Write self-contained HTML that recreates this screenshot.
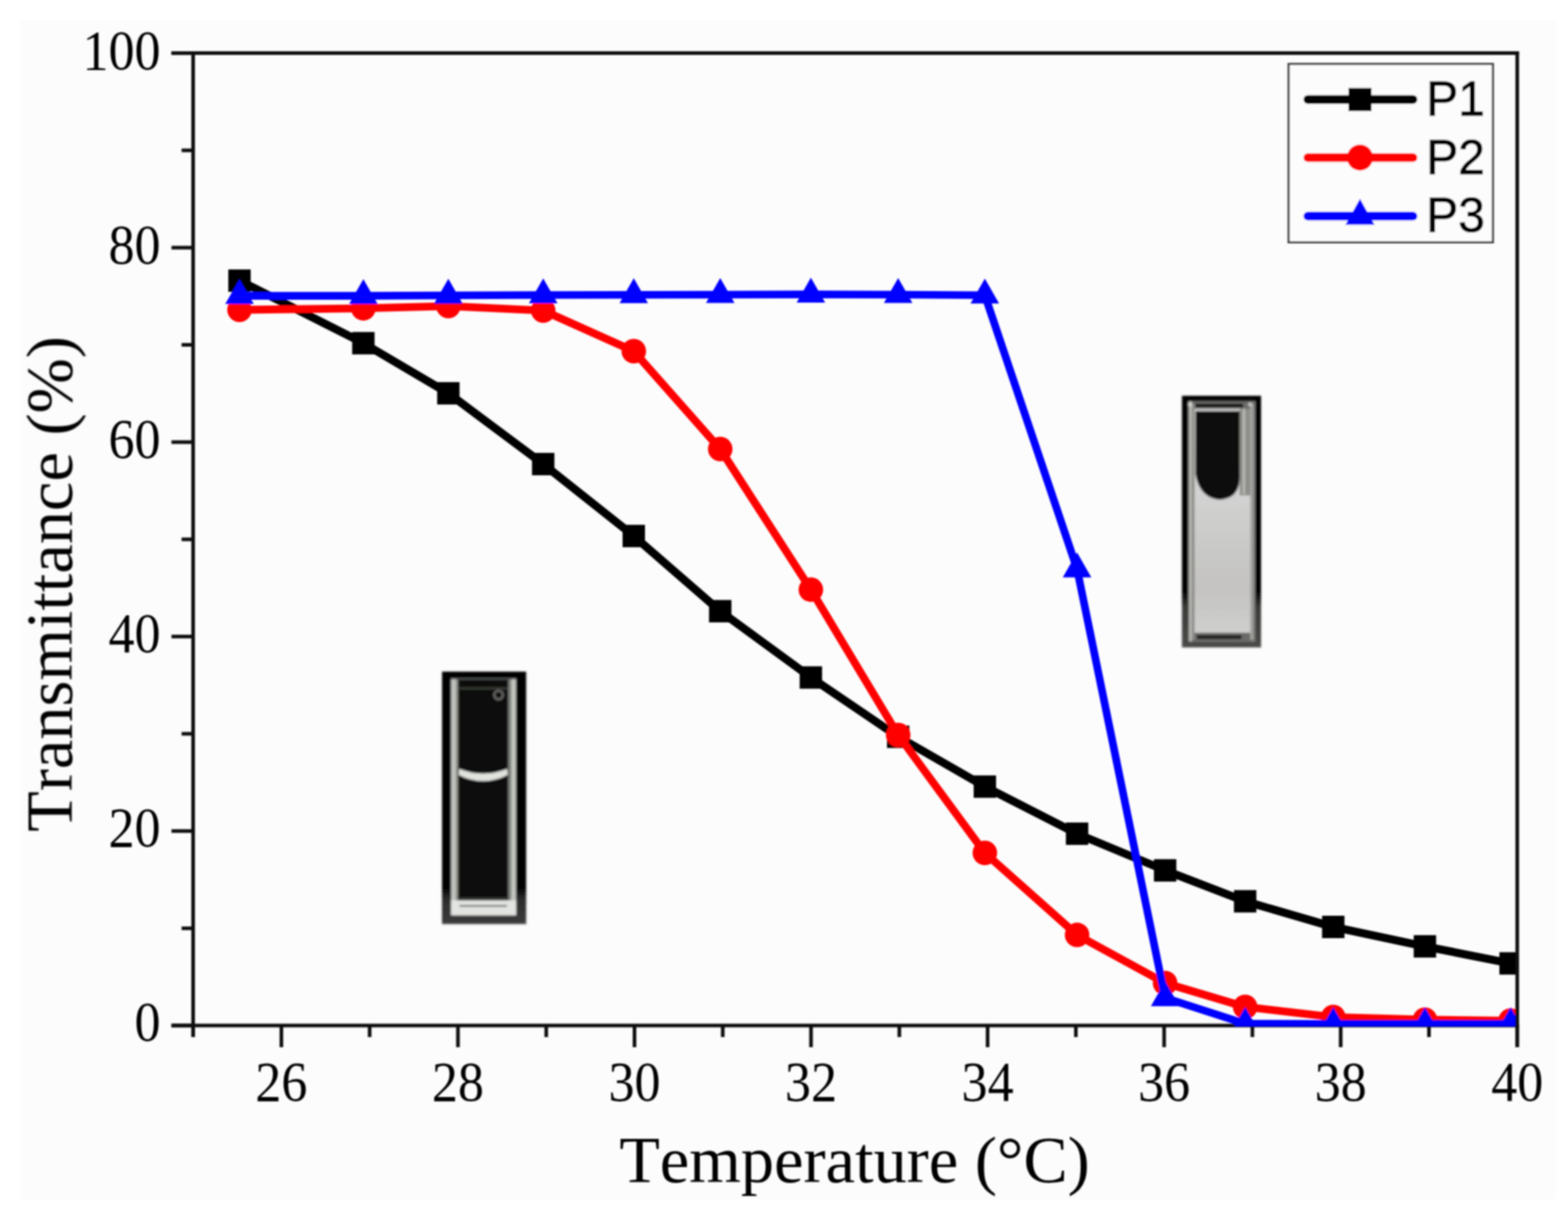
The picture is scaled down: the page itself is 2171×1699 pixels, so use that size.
<!DOCTYPE html>
<html lang="en"><head><meta charset="utf-8"><title>Transmittance vs Temperature</title>
<style>
html,body{margin:0;padding:0;background:#fff;}
body{width:2171px;height:1699px;overflow:hidden;position:relative;}
svg{position:absolute;left:0;top:0;display:block;}
.serif{font-family:"Liberation Serif","DejaVu Serif",serif;fill:#000;font-kerning:none;}
.sans{font-family:"Liberation Sans","DejaVu Sans",sans-serif;fill:#000;}
</style></head><body>
<svg width="2171" height="1699" viewBox="0 0 2171 1699">
<defs>
<filter id="soft" x="-2%" y="-2%" width="104%" height="104%"><feGaussianBlur stdDeviation="1.25"/></filter>
<filter id="soft2" x="-10%" y="-10%" width="120%" height="120%"><feGaussianBlur stdDeviation="0.8"/></filter>
<clipPath id="plot"><rect x="267.4" y="73.6" width="1833.8" height="1347.3"/></clipPath>
<linearGradient id="liq" x1="0" y1="0" x2="0" y2="1"><stop offset="0" stop-color="#dcdedd"/><stop offset="0.35" stop-color="#d2d3d2"/><stop offset="0.8" stop-color="#c4c3c1"/><stop offset="1" stop-color="#cfcfcd"/></linearGradient>
<linearGradient id="frameR" x1="0" y1="0" x2="0" y2="1"><stop offset="0" stop-color="#050505"/><stop offset="0.78" stop-color="#050505"/><stop offset="0.84" stop-color="#3a3a38"/><stop offset="1" stop-color="#4a4a48"/></linearGradient>
<linearGradient id="frameL" x1="0" y1="0" x2="0" y2="1"><stop offset="0" stop-color="#040404"/><stop offset="0.86" stop-color="#040404"/><stop offset="0.9" stop-color="#2c2c2c"/><stop offset="1" stop-color="#3c3c3c"/></linearGradient>
</defs>
<rect x="0" y="0" width="2171" height="1699" fill="#ffffff"/>
<rect x="28.4" y="27.6" width="2126.6" height="1633" fill="#fcfcfc"/>
<g filter="url(#soft)">
<g stroke="#111" stroke-width="5" fill="none" stroke-linecap="butt">
<line x1="237.4" y1="73.6" x2="2103.2" y2="73.6"/>
<line x1="237.4" y1="1420.0" x2="2103.2" y2="1420.0"/>
<line x1="267.4" y1="71.1" x2="267.4" y2="1436.0"/>
<line x1="237.4" y1="1420.0" x2="267.4" y2="1420.0"/>
<line x1="251.4" y1="1285.4" x2="267.4" y2="1285.4"/>
<line x1="237.4" y1="1150.7" x2="267.4" y2="1150.7"/>
<line x1="251.4" y1="1016.1" x2="267.4" y2="1016.1"/>
<line x1="237.4" y1="881.4" x2="267.4" y2="881.4"/>
<line x1="251.4" y1="746.8" x2="267.4" y2="746.8"/>
<line x1="237.4" y1="612.2" x2="267.4" y2="612.2"/>
<line x1="251.4" y1="477.5" x2="267.4" y2="477.5"/>
<line x1="237.4" y1="342.9" x2="267.4" y2="342.9"/>
<line x1="251.4" y1="208.2" x2="267.4" y2="208.2"/>
<line x1="237.4" y1="73.6" x2="267.4" y2="73.6"/>
<line x1="267.4" y1="1420.0" x2="267.4" y2="1436.0"/>
<line x1="389.6" y1="1420.0" x2="389.6" y2="1450.0"/>
<line x1="511.8" y1="1420.0" x2="511.8" y2="1436.0"/>
<line x1="634.1" y1="1420.0" x2="634.1" y2="1450.0"/>
<line x1="756.3" y1="1420.0" x2="756.3" y2="1436.0"/>
<line x1="878.5" y1="1420.0" x2="878.5" y2="1450.0"/>
<line x1="1000.7" y1="1420.0" x2="1000.7" y2="1436.0"/>
<line x1="1122.9" y1="1420.0" x2="1122.9" y2="1450.0"/>
<line x1="1245.2" y1="1420.0" x2="1245.2" y2="1436.0"/>
<line x1="1367.4" y1="1420.0" x2="1367.4" y2="1450.0"/>
<line x1="1489.6" y1="1420.0" x2="1489.6" y2="1436.0"/>
<line x1="1611.8" y1="1420.0" x2="1611.8" y2="1450.0"/>
<line x1="1734.0" y1="1420.0" x2="1734.0" y2="1436.0"/>
<line x1="1856.3" y1="1420.0" x2="1856.3" y2="1450.0"/>
<line x1="1978.5" y1="1420.0" x2="1978.5" y2="1436.0"/>
<line x1="2100.7" y1="1420.0" x2="2100.7" y2="1450.0"/>
</g>
<g class="serif" font-size="77.5" text-anchor="end">
<text transform="translate(222.4 1441.0) scale(0.93 1)">0</text>
<text transform="translate(222.4 1171.9) scale(0.93 1)">20</text>
<text transform="translate(222.4 902.8) scale(0.93 1)">40</text>
<text transform="translate(222.4 633.8) scale(0.93 1)">60</text>
<text transform="translate(222.4 364.7) scale(0.93 1)">80</text>
<text transform="translate(222.4 95.6) scale(0.93 1)">100</text>
</g>
<g class="serif" font-size="77.5" text-anchor="middle">
<text transform="translate(389.6 1524.4) scale(0.93 1)">26</text>
<text transform="translate(634.1 1524.4) scale(0.93 1)">28</text>
<text transform="translate(878.5 1524.4) scale(0.93 1)">30</text>
<text transform="translate(1122.9 1524.4) scale(0.93 1)">32</text>
<text transform="translate(1367.4 1524.4) scale(0.93 1)">34</text>
<text transform="translate(1611.8 1524.4) scale(0.93 1)">36</text>
<text transform="translate(1856.3 1524.4) scale(0.93 1)">38</text>
<text transform="translate(2100.7 1524.4) scale(0.93 1)">40</text>
</g>
<text class="serif" font-size="91.9" text-anchor="middle" x="1183.2" y="1636.9">Temperature (°C)</text>
<text class="serif" font-size="91.9" text-anchor="middle" transform="translate(99.5 808.5) rotate(-90)">Transmittance (%)</text>
<g id="cuvette-clear" filter="url(#soft2)">
<rect x="612" y="930" width="116.5" height="349.5" fill="url(#frameL)"/>
<rect x="634" y="941" width="70" height="305" fill="#0f0f0f"/>
<rect x="634" y="941" width="70" height="10.5" fill="#070707"/>
<rect x="624.6" y="939" width="6.4" height="328" fill="#c0c3bd"/>
<rect x="631" y="941" width="3.2" height="312" fill="#8d908a"/>
<rect x="703.6" y="941" width="4" height="312" fill="#7c807a"/>
<rect x="707.6" y="939" width="6.9" height="328" fill="#c2c5bf"/>
<rect x="624.6" y="939" width="89.9" height="1.8" fill="#5c5e5a"/>
<rect x="624.6" y="1246.5" width="89.9" height="21" fill="#e2e4e1"/>
<rect x="636" y="1253.2" width="66" height="2.4" fill="#6f716f"/>
<rect x="634.3" y="1243" width="69.7" height="4" fill="#3a3b3a"/>
<rect x="634.5" y="952.4" width="69" height="1.6" fill="#4c504a"/>
<circle cx="690.3" cy="962.3" r="6" fill="none" stroke="#6a6c69" stroke-width="2.8"/>
<path d="M635.5 1064.5 Q669 1078 702.5 1064.5 L703 1073 Q669 1090 635 1073 Z" fill="#e0e3de"/>
</g>
<g id="cuvette-turbid" filter="url(#soft2)">
<rect x="1636.5" y="548" width="109.5" height="348.5" fill="url(#frameR)"/>
<rect x="1645" y="555.5" width="93" height="333.5" fill="#6a6a68"/>
<rect x="1646.5" y="556" width="3.5" height="332" fill="#b9b9b5"/>
<rect x="1650" y="560" width="4" height="326" fill="#8c8c89"/>
<rect x="1731" y="560" width="4" height="326" fill="#a2a29f"/>
<rect x="1735" y="556" width="3" height="332" fill="#7c7c7a"/>
<rect x="1654" y="566" width="77" height="310" fill="url(#liq)"/>
<rect x="1716.5" y="566" width="14.5" height="120" fill="#8e8e8b"/>
<rect x="1721" y="566" width="2.5" height="118" fill="#c4c4c0"/>
<path d="M1655 569 H1716.5 V662 Q1716 690 1689 692 Q1661 690 1655 656 Z" fill="#0b0b0b"/>
<rect x="1655" y="559" width="66" height="5.5" fill="#101010"/>
<rect x="1654" y="565" width="64" height="2.2" fill="#9c9c99"/>
<rect x="1645.5" y="557.5" width="5" height="5" fill="#d8d8d4"/>
<rect x="1728.5" y="557.5" width="5" height="5" fill="#c6c6c2"/>
<rect x="1657" y="879.5" width="62" height="5.5" fill="#222220"/>
</g>
<g clip-path="url(#plot)">
<g stroke="#000" fill="#000"><polyline points="331.6,388.6 503.1,475.2 620.8,544.6 752.1,642.6 877.5,742.2 997.2,846.3 1122.7,938.1 1243.6,1020.2 1363.6,1089.2 1491.3,1154.4 1613.2,1205.2 1724.0,1248.0 1846.0,1283.5 1972.9,1310.4 2091.5,1334.0" fill="none" stroke-width="11.2" stroke-linejoin="round"/>
<g stroke="none"><rect x="316.1" y="373.1" width="31.0" height="31.0"/><rect x="487.6" y="459.7" width="31.0" height="31.0"/><rect x="605.3" y="529.1" width="31.0" height="31.0"/><rect x="736.6" y="627.1" width="31.0" height="31.0"/><rect x="862.0" y="726.7" width="31.0" height="31.0"/><rect x="981.7" y="830.8" width="31.0" height="31.0"/><rect x="1107.2" y="922.6" width="31.0" height="31.0"/><rect x="1228.1" y="1004.7" width="31.0" height="31.0"/><rect x="1348.1" y="1073.7" width="31.0" height="31.0"/><rect x="1475.8" y="1138.9" width="31.0" height="31.0"/><rect x="1597.7" y="1189.7" width="31.0" height="31.0"/><rect x="1708.5" y="1232.5" width="31.0" height="31.0"/><rect x="1830.5" y="1268.0" width="31.0" height="31.0"/><rect x="1957.4" y="1294.9" width="31.0" height="31.0"/><rect x="2076.0" y="1318.5" width="31.0" height="31.0"/></g></g>
<g stroke="#ff0000" fill="#ff0000"><polyline points="331.6,429.0 503.1,426.9 620.8,423.8 752.1,430.0 877.5,486.3 997.2,621.8 1122.7,816.4 1243.6,1017.8 1363.6,1181.0 1491.3,1294.6 1613.2,1361.3 1724.0,1394.2 1846.0,1408.3 1972.9,1412.0 2091.5,1413.3" fill="none" stroke-width="10.8" stroke-linejoin="round"/>
<g stroke="none"><circle cx="331.6" cy="429.0" r="17.0"/><circle cx="503.1" cy="426.9" r="17.0"/><circle cx="620.8" cy="423.8" r="17.0"/><circle cx="752.1" cy="430.0" r="17.0"/><circle cx="877.5" cy="486.3" r="17.0"/><circle cx="997.2" cy="621.8" r="17.0"/><circle cx="1122.7" cy="816.4" r="17.0"/><circle cx="1243.6" cy="1017.8" r="17.0"/><circle cx="1363.6" cy="1181.0" r="17.0"/><circle cx="1491.3" cy="1294.6" r="17.0"/><circle cx="1613.2" cy="1361.3" r="17.0"/><circle cx="1724.0" cy="1394.2" r="17.0"/><circle cx="1846.0" cy="1408.3" r="17.0"/><circle cx="1972.9" cy="1412.0" r="17.0"/><circle cx="2091.5" cy="1413.3" r="17.0"/></g></g>
<g stroke="#0000ff" fill="#0000ff"><polyline points="331.6,409.6 503.1,409.6 620.8,409.0 752.1,408.5 877.5,408.3 997.2,408.0 1122.7,407.6 1243.6,408.0 1363.6,408.8 1491.3,788.0 1613.2,1381.7 1724.0,1417.5 1846.0,1417.8 1972.9,1417.8 2091.5,1417.8" fill="none" stroke-width="10.6" stroke-linejoin="round"/>
<g stroke="none"><polygon points="331.6,386.6 351.4,421.1 311.9,421.1"/><polygon points="503.1,386.6 522.9,421.1 483.4,421.1"/><polygon points="620.8,386.0 640.5,420.5 601.0,420.5"/><polygon points="752.1,385.5 771.9,420.0 732.4,420.0"/><polygon points="877.5,385.3 897.2,419.8 857.8,419.8"/><polygon points="997.2,385.0 1017.0,419.5 977.5,419.5"/><polygon points="1122.7,384.6 1142.5,419.1 1103.0,419.1"/><polygon points="1243.6,385.0 1263.3,419.5 1223.8,419.5"/><polygon points="1363.6,385.8 1383.3,420.3 1343.8,420.3"/><polygon points="1491.3,765.0 1511.0,799.5 1471.5,799.5"/><polygon points="1613.2,1358.7 1633.0,1393.2 1593.5,1393.2"/><polygon points="1724.0,1394.5 1743.8,1429.0 1704.2,1429.0"/><polygon points="1846.0,1394.8 1865.8,1429.3 1826.2,1429.3"/><polygon points="1972.9,1394.8 1992.7,1429.3 1953.2,1429.3"/><polygon points="2091.5,1394.8 2111.2,1429.3 2071.8,1429.3"/></g></g>
</g>
<line x1="2100.7" y1="71.1" x2="2100.7" y2="1450.0" stroke="#111" stroke-width="5"/>
<g id="legend">
<rect x="1784.2" y="88.6" width="282.8" height="246.9" fill="#fcfcfc" stroke="#444" stroke-width="3"/>
<line x1="1810.8" y1="137.8" x2="1956.4" y2="137.8" stroke="#000" stroke-width="12" stroke-linecap="round"/>
<line x1="1810.8" y1="218.2" x2="1956.4" y2="218.2" stroke="#ff0000" stroke-width="12" stroke-linecap="round"/>
<line x1="1810.8" y1="299.2" x2="1956.4" y2="299.2" stroke="#0000ff" stroke-width="12" stroke-linecap="round"/>
<rect x="1867.0" y="121.8" width="32.0" height="32.0" fill="#000"/>
<circle cx="1883.0" cy="218.2" r="18" fill="#ff0000"/>
<g fill="#0000ff"><polygon points="1883.0,275.2 1903.2,311.2 1862.8,311.2"/></g>
<g class="sans" font-size="68" stroke="#000" stroke-width="1.1">
<text transform="translate(1974.8 160.3) scale(0.975 1)">P1</text>
<text transform="translate(1974.8 241.3) scale(0.975 1)">P2</text>
<text transform="translate(1974.8 321.3) scale(0.975 1)">P3</text>
</g></g>
</g>
</svg>
</body></html>
